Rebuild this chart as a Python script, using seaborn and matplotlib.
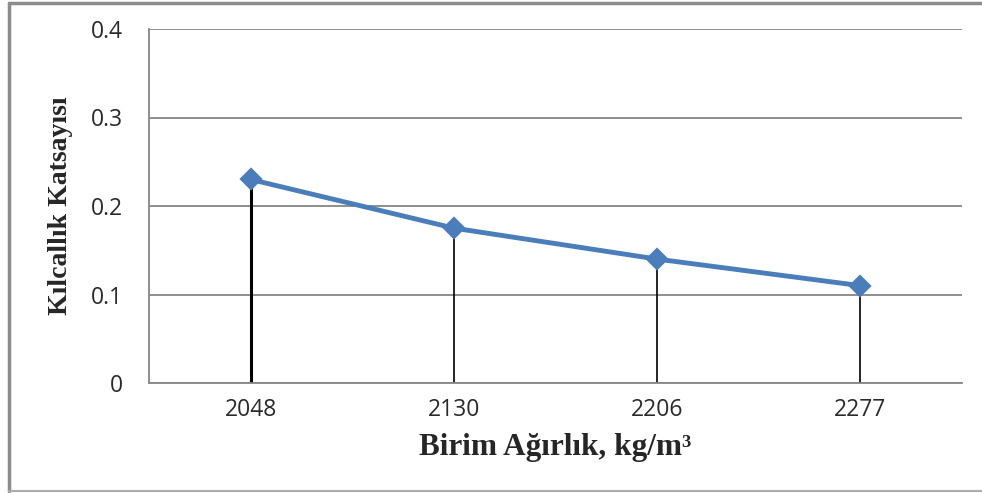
import numpy as np
import matplotlib
matplotlib.use("Agg")
import matplotlib.pyplot as plt
import seaborn as sns
import pandas as pd
from matplotlib.ticker import FuncFormatter
from matplotlib.lines import Line2D

sns.set_style("white")

# data
birim_agirlik = ["2048", "2130", "2206", "2277"]
kilcallik = [0.23, 0.175, 0.14, 0.11]
y_ticks = [0, 0.1, 0.2, 0.3, 0.4]

df = pd.DataFrame({"birim": birim_agirlik, "k": kilcallik})

fig = plt.figure(figsize=(9.82, 4.93), dpi=100)
ax = fig.add_axes([149 / 982, 1 - 383 / 493, (962 - 149) / 982, (383 - 29) / 493])

blue = "#4a7ebb"
grey = "#868686"

# drop lines from each point down to zero
pos = np.arange(len(kilcallik))
ax.vlines(pos, 0, kilcallik, colors="black", linewidths=[2.2, 1.2, 1.2, 1.2], zorder=2)

sns.pointplot(data=df, x="birim", y="k", color=blue, markers="D",
              linewidth=3.5, markersize=9.5, ax=ax, zorder=3)

ax.set_xlim(-0.5, len(kilcallik) - 0.5)
ax.set_ylim(0, 0.4)
ax.set_yticks(y_ticks)
ax.yaxis.set_major_formatter(FuncFormatter(lambda v, p: f"{v:g}"))
ax.grid(axis="y", color=grey, lw=1.3)
ax.grid(axis="x", visible=False)
ax.set_axisbelow(True)

for s in ["top", "right"]:
    ax.spines[s].set_visible(False)
for s in ["left", "bottom"]:
    ax.spines[s].set_color(grey)
    ax.spines[s].set_linewidth(1.3)

ax.tick_params(axis="y", length=6.5, width=1.3, color=grey, pad=12,
               labelsize=16.5, labelcolor="#2a2a2a")
ax.tick_params(axis="x", length=0, pad=11, labelsize=16.5, labelcolor="#2a2a2a")
for lab in ax.get_xticklabels() + ax.get_yticklabels():
    lab.set_fontfamily("Open Sans")

ax.set_xlabel("Birim Ağırlık, kg/m³", fontfamily="Liberation Serif",
              fontweight="bold", fontsize=22.5, labelpad=8)
ax.set_ylabel("Kılcallık Katsayısı", fontfamily="Liberation Serif",
              fontweight="bold", fontsize=20, labelpad=13)

# outer frame of the chart area
border = "#8c8c8c"
fig.add_artist(Line2D([9 / 982, 9 / 982], [1 - 3 / 493, 1 - 491 / 493],
                      transform=fig.transFigure, color=border, lw=2.5))
fig.add_artist(Line2D([9 / 982, 1], [1 - 3 / 493, 1 - 3 / 493],
                      transform=fig.transFigure, color=border, lw=2.5))
fig.add_artist(Line2D([9 / 982, 1], [1 - 491 / 493, 1 - 491 / 493],
                      transform=fig.transFigure, color="#aaaaaa", lw=1.5))

fig.savefig("out.png", dpi=100)
